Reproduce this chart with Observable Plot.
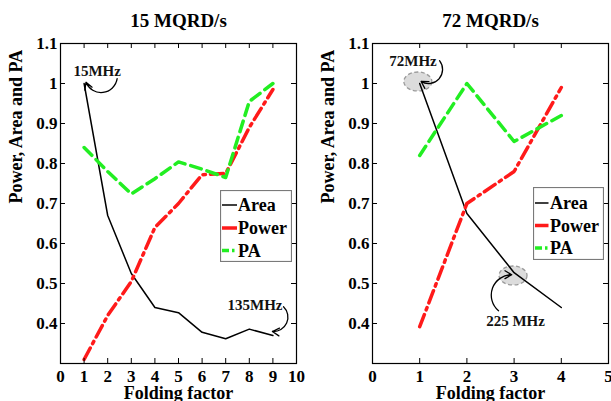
<!DOCTYPE html>
<html><head><meta charset="utf-8">
<script src="https://cdn.jsdelivr.net/npm/d3@7"></script>
<script src="https://cdn.jsdelivr.net/npm/@observablehq/plot@0.6"></script>
<style>
body{margin:0;background:#fff;}
#wrap{position:relative;width:611px;height:401px;overflow:hidden;background:#fff;}
</style></head><body><div id="wrap"></div>
<script>
// ---- data ----
const foldLeft   = [1, 2, 3, 4, 5, 6, 7, 8, 9];
const areaLeft   = [1.0, 0.67, 0.525, 0.44, 0.427, 0.378, 0.362, 0.386, 0.37];
const powerLeft  = [0.31, 0.42, 0.505, 0.64, 0.70, 0.772, 0.775, 0.89, 0.985];
const paLeft     = [0.84, 0.78, 0.724, 0.762, 0.804, 0.786, 0.765, 0.955, 1.0];

const foldRight  = [1, 2, 3, 4];
const areaRight  = [1.0, 0.675, 0.527, 0.44];
const powerRight = [0.392, 0.70, 0.78, 0.99];
const paRight    = [0.82, 1.0, 0.855, 0.92];

const titles = ["15 MQRD/s", "72 MQRD/s"];
const xTicksLeft = [0, 1, 2, 3, 4, 5, 6, 7, 8, 9, 10];
const xTicksRight = [0, 1, 2, 3, 4, 5];
const yTicks = [0.4, 0.5, 0.6, 0.7, 0.8, 0.9, 1, 1.1];
const xLabel = "Folding factor";
const yLabel = "Power, Area and PA";
const seriesNames = ["Area", "Power", "PA"];

// annotations (data units)
const notesLeft = [
  {x: 1.555, y: 1.032, text: "15MHz"},
  {x: 8.24, y: 0.447, text: "135MHz"}
];
const arrowsLeft = [
  {x1: 2.4, y1: 1.012, x2: 1.08, y2: 1.003, bend: 75},
  {x1: 9.45, y1: 0.442, x2: 8.98, y2: 0.38, bend: 70}
];
const notesRight = [
  {x: 0.858, y: 1.057, text: "72MHz"},
  {x: 3.03, y: 0.405, text: "225 MHz"}
];
const arrowsRight = [
  {x1: 1.42, y1: 1.057, x2: 1.03, y2: 1.005, bend: 80},
  {x1: 2.67, y1: 0.432, x2: 2.95, y2: 0.522, bend: 70}
];
const ellipsesRight = [
  {x: 0.96, y: 1.005},
  {x: 2.977, y: 0.52}
];

// ---- drawing ----
const FONT = '"Liberation Serif", "Times New Roman", serif';
const RED = "#ff1a1a", GREEN = "#22ee22";

const ellipseSymbol = {
  draw(ctx) {
    const rx = 14, ry = 9.5, k = 0.5523;
    ctx.moveTo(rx, 0);
    ctx.bezierCurveTo(rx, ry * k, rx * k, ry, 0, ry);
    ctx.bezierCurveTo(-rx * k, ry, -rx, ry * k, -rx, 0);
    ctx.bezierCurveTo(-rx, -ry * k, -rx * k, -ry, 0, -ry);
    ctx.bezierCurveTo(rx * k, -ry, rx, -ry * k, rx, 0);
    ctx.closePath();
  }
};

function panel({title, xs, area, power, pa, xmax, xTicks, width, ml, mr, notes, arrows, ellipses}) {
  const rows = xs.map((x, i) => ({x, area: area[i], power: power[i], pa: pa[i]}));
  const mt = 43, mb = 38, H = 401;
  const fw = width - ml - mr, fh = H - mt - mb;
  return Plot.plot({
    width, height: H, marginLeft: ml, marginRight: mr, marginTop: mt, marginBottom: mb,
    style: {fontFamily: FONT, fontWeight: "bold", fontSize: "17px", background: "transparent", color: "black", overflow: "visible"},
    x: {domain: [0, xmax], ticks: xTicks, tickSize: 0, tickPadding: 6, tickFormat: d => String(d), label: null},
    y: {domain: [0.3, 1.1], ticks: yTicks, tickSize: 0, tickPadding: 3, tickFormat: d => d === 1 ? "1" : d3.format(".1f")(d), label: null},
    marks: [
      Plot.dot(ellipses, {x: "x", y: "y", symbol: ellipseSymbol, fill: "#dcdcdc", stroke: "#9a9a9a", strokeWidth: 1.3, strokeDasharray: "4,2.5"}),
      Plot.line(rows, {x: "x", y: "area", stroke: "black", strokeWidth: 1.5}),
      Plot.line(rows, {x: "x", y: "power", stroke: RED, strokeWidth: 3.5, strokeDasharray: "13,5,2.5,5"}),
      Plot.line(rows, {x: "x", y: "pa", stroke: GREEN, strokeWidth: 3.5, strokeDasharray: "11,6"}),
      ...arrows.map(a => Plot.arrow([a], {x1: "x1", y1: "y1", x2: "x2", y2: "y2", bend: a.bend, stroke: "black", strokeWidth: 1.3, headLength: 9})),
      Plot.text(notes, {x: "x", y: "y", text: "text", fontSize: 15, fontWeight: "bold", fill: "#111"}),
      Plot.frame({stroke: "black", strokeWidth: 1.2}),
      Plot.tickX(xTicks, {x: d => d, insetTop: fh - 5, stroke: "black"}),
      Plot.tickX(xTicks, {x: d => d, insetBottom: fh - 5, stroke: "black"}),
      Plot.tickY(yTicks, {y: d => d, insetRight: fw - 5, stroke: "black"}),
      Plot.tickY(yTicks, {y: d => d, insetLeft: fw - 5, stroke: "black"}),
      Plot.text([title], {frameAnchor: "top", dy: -17, lineAnchor: "bottom", fontSize: 19, fontWeight: "bold"}),
      Plot.text([xLabel], {frameAnchor: "bottom", dy: 23, lineAnchor: "top", fontSize: 18, fontWeight: "bold"}),
      Plot.text([yLabel], {frameAnchor: "left", dx: -44, rotate: -90, fontSize: 18, fontWeight: "bold"})
    ]
  });
}

function legend(left, top, w, h, rowYs, s0, s1, tx) {
  const ns = "http://www.w3.org/2000/svg";
  const svg = document.createElementNS(ns, "svg");
  svg.setAttribute("width", w); svg.setAttribute("height", h);
  svg.style.position = "absolute"; svg.style.left = left + "px"; svg.style.top = top + "px";
  const mk = (tag, attrs, txt) => {
    const e = document.createElementNS(ns, tag);
    for (const k in attrs) e.setAttribute(k, attrs[k]);
    if (txt) e.textContent = txt;
    svg.appendChild(e); return e;
  };
  mk("rect", {x: 0.5, y: 0.5, width: w - 1, height: h - 1, fill: "#fff", stroke: "#7a7a7a", "stroke-width": 1.2});
  const styles = [
    {stroke: "black", "stroke-width": 1.5},
    {stroke: RED, "stroke-width": 3.5},
    {stroke: GREEN, "stroke-width": 3.5, "stroke-dasharray": "7,3,2.5,10"}
  ];
  seriesNames.forEach((name, i) => {
    mk("line", {x1: s0, x2: s1, y1: rowYs[i], y2: rowYs[i], ...styles[i]});
    mk("text", {x: tx, y: rowYs[i] + 6, "font-family": FONT, "font-weight": "bold", "font-size": 18, fill: "black"}, name);
  });
  return svg;
}

const wrap = document.getElementById("wrap");
function place(el, x) { el.style.position = "absolute"; el.style.left = x + "px"; el.style.top = "0px"; wrap.appendChild(el); }
place(panel({title: titles[0], xs: foldLeft, area: areaLeft, power: powerLeft, pa: paLeft,
  xmax: 10, xTicks: xTicksLeft, width: 305, ml: 60, mr: 9, notes: notesLeft, arrows: arrowsLeft, ellipses: []}), 0);
place(panel({title: titles[1], xs: foldRight, area: areaRight, power: powerRight, pa: paRight,
  xmax: 5, xTicks: xTicksRight, width: 306, ml: 67, mr: 3, notes: notesRight, arrows: arrowsRight, ellipses: ellipsesRight}), 305);

wrap.appendChild(legend(220, 190, 72, 72, [15, 38, 60.5], 2, 17, 18));
wrap.appendChild(legend(533, 187, 71, 73, [16, 38.5, 61], 2, 15.5, 17));
</script></body></html>
